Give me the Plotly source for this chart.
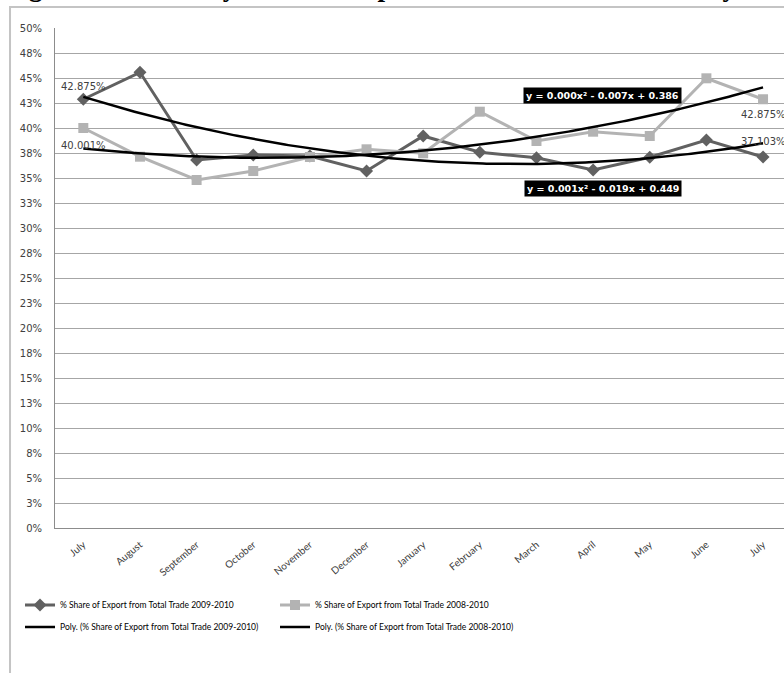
import numpy as np
import plotly.graph_objects as go

months = ["July", "August", "September", "October", "November", "December",
          "January", "February", "March", "April", "May", "June", "July"]
share_2009_2010 = [0.42875, 0.4557, 0.368, 0.373, 0.372, 0.357, 0.392,
                   0.3757, 0.3703, 0.358, 0.3707, 0.388, 0.37103]
share_2008_2010 = [0.40001, 0.3713, 0.348, 0.357, 0.371, 0.3787, 0.3747,
                   0.4163, 0.387, 0.3963, 0.392, 0.4497, 0.42875]
y_tickvals = [i * 0.025 for i in range(21)]
y_ticktext = ["0%", "3%", "5%", "8%", "10%", "13%", "15%", "18%", "20%", "23%", "25%",
              "28%", "30%", "33%", "35%", "38%", "40%", "43%", "45%", "48%", "50%"]
name_a = "% Share of Export from Total Trade 2009-2010"
name_b = "% Share of Export from Total Trade 2008-2010"
eq_b = "y = 0.000x² - 0.007x + 0.386"
eq_a = "y = 0.001x² - 0.019x + 0.449"
title_text = "Figure 4.5: Monthly Share of Export from Total Trade Monthly"

x_idx = np.arange(len(months))
xs = np.linspace(0, len(months) - 1, 200)
fit_a = np.polyval(np.polyfit(x_idx, share_2009_2010, 2), xs)
fit_b = np.polyval(np.polyfit(x_idx, share_2008_2010, 2), xs)

DARK = "#616161"
LIGHT = "#b3b3b3"
TXT = "#404040"

fig = go.Figure()
fig.add_trace(go.Scatter(x=x_idx, y=share_2009_2010, mode="lines+markers", name=name_a,
                         line=dict(color=DARK, width=3), legend="legend",
                         marker=dict(symbol="diamond", size=10, color=DARK)))
fig.add_trace(go.Scatter(x=x_idx, y=share_2008_2010, mode="lines+markers", name=name_b,
                         line=dict(color=LIGHT, width=3), legend="legend",
                         marker=dict(symbol="square", size=10, color=LIGHT)))
fig.add_trace(go.Scatter(x=xs, y=fit_a, mode="lines", name="Poly. (" + name_a + ")",
                         line=dict(color="black", width=2.5), legend="legend2"))
fig.add_trace(go.Scatter(x=xs, y=fit_b, mode="lines", name="Poly. (" + name_b + ")",
                         line=dict(color="black", width=2.5), legend="legend2"))

ann = []
# data labels
ann.append(dict(x=0, y=share_2009_2010[0], text="42.875%", showarrow=False,
                xanchor="center", yanchor="bottom", yshift=5,
                font=dict(family="DejaVu Sans", size=10, color=TXT)))
ann.append(dict(x=0, y=share_2008_2010[0], text="40.001%", showarrow=False,
                xanchor="center", yanchor="top", yshift=-10,
                font=dict(family="DejaVu Sans", size=10, color=TXT)))
ann.append(dict(x=12, y=share_2008_2010[12], text="42.875%", showarrow=False,
                xanchor="center", yanchor="top", yshift=-8,
                font=dict(family="DejaVu Sans", size=10, color=TXT)))
ann.append(dict(x=12, y=share_2009_2010[12], text="37.103%", showarrow=False,
                xanchor="center", yanchor="bottom", yshift=8,
                font=dict(family="DejaVu Sans", size=10, color=TXT)))
# equations
ann.append(dict(x=9.16, y=0.433, text=eq_b, showarrow=False, bgcolor="black",
                borderpad=2, font=dict(family="DejaVu Sans", size=9.5, color="white", weight="bold")))
ann.append(dict(x=9.18, y=0.340, text=eq_a, showarrow=False, bgcolor="black",
                borderpad=2, font=dict(family="DejaVu Sans", size=9.5, color="white", weight="bold")))
# title (cut off at top of page, as in the reference)
ann.append(dict(xref="paper", yref="paper", x=-0.071, y=1.048, xanchor="left", yanchor="bottom",
                text="<b>" + title_text + "</b>", showarrow=False,
                font=dict(family="Liberation Serif", size=27, color="black")))

legend_common = dict(orientation="h", x=-0.048, xanchor="left", yanchor="top",
                     entrywidth=210, entrywidthmode="pixels", itemwidth=30,
                     font=dict(family="Lato", size=8.5, color="black"))

fig.update_layout(
    width=784, height=673, autosize=False,
    margin=dict(l=55, r=0, t=28, b=145),
    paper_bgcolor="white", plot_bgcolor="white",
    showlegend=True,
    legend=dict(y=-0.125, **legend_common),
    legend2=dict(y=-0.169, **legend_common),
    annotations=ann,
    shapes=[dict(type="path", xref="paper", yref="paper",
                 path="M -0.0617 -0.32 L -0.0617 1.042 L 1.05 1.042",
                 line=dict(color="#c4c4c4", width=2))],
    xaxis=dict(range=[-0.5, 12.37], tickmode="array", tickvals=list(x_idx), ticktext=months,
               tickangle=-40, showgrid=False, zeroline=False, showline=True,
               linecolor="#8c8c8c", linewidth=1, ticks="", ticklabelstandoff=6,
               tickfont=dict(family="Lato", size=10, color=TXT)),
    yaxis=dict(range=[0, 0.5], tickmode="array", tickvals=y_tickvals, ticktext=y_ticktext,
               showgrid=True, gridcolor="#a6a6a6", gridwidth=1, zeroline=False,
               showline=True, linecolor="#8c8c8c", linewidth=1, ticks="",
               ticklabelstandoff=10,
               tickfont=dict(family="DejaVu Sans", size=10, color=TXT)),
)

fig.write_html("out.html")
